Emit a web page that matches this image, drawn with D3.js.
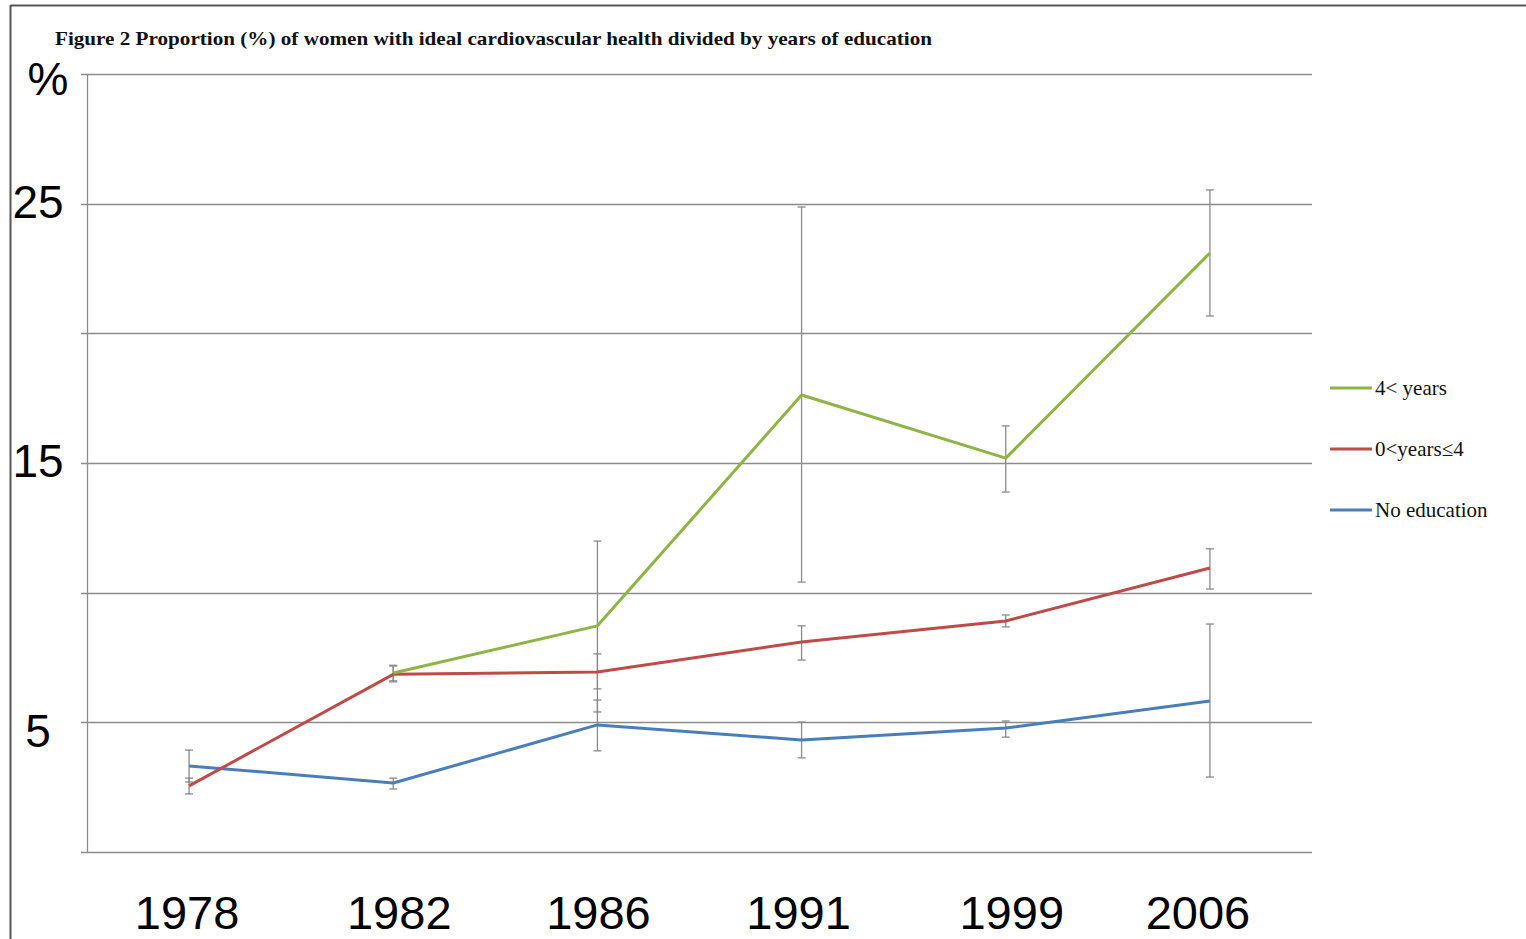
<!DOCTYPE html>
<html>
<head>
<meta charset="utf-8">
<script src="https://cdn.jsdelivr.net/npm/d3@7"></script>
<style>
  html, body { margin: 0; padding: 0; background: #fff; }
  svg { display: block; }
</style>
</head>
<body>
<svg id="chart" width="1526" height="939"></svg>
<script>
// Survey years (categorical x axis)
const years = ["1978", "1982", "1986", "1991", "1999", "2006"];

// Proportion (%) of women with ideal cardiovascular health, with CI bounds
const noEducation      = [3.32, 2.66, 4.90, 4.32, 4.78, 5.82];
const noEducationLow   = [2.70, 2.43, 3.90, 3.63, 4.43, 2.89];
const noEducationHigh  = [3.93, 2.85, 5.86, 5.01, 5.05, 8.79];

const upToFour         = [2.55, 6.85, 6.94, 8.10, 8.91, 10.95];
const upToFourLow      = [2.24, 6.56, 6.29, 7.40, 8.68, 10.14];
const upToFourHigh     = [2.85, 7.17, 7.64, 8.72, 9.14, 11.69];

const overFour         = [null, 6.90, 8.72, 17.62, 15.19, 23.10];
const overFourLow      = [null, 6.60, 5.40, 10.41, 13.88, 20.67];
const overFourHigh     = [null, 7.20, 11.99, 24.87, 16.43, 25.53];

// Gridline values and the subset that carries a printed label
const gridValues = [0, 5, 10, 15, 20, 25, 30];
const yLabels = ["25", "15", "5"];

const seriesNames = ["4< years", "0<years\u22644", "No education"];

const svg = d3.select("#chart");

// Outer frame (top and left edges)
svg.append("line").attr("x1", 10.5).attr("x2", 1526).attr("y1", 5.5).attr("y2", 5.5)
  .attr("stroke", "#555").attr("stroke-width", 2);
svg.append("line").attr("x1", 10.5).attr("x2", 10.5).attr("y1", 5).attr("y2", 939)
  .attr("stroke", "#555").attr("stroke-width", 2);

const plot = { left: 87, right: 1312, top: 74, bottom: 852 };

const x = d3.scalePoint().domain(years).range([plot.left, plot.right]).padding(0.5);
const y = d3.scaleLinear().domain([0, 30]).range([plot.bottom, plot.top]);

// Title
svg.append("text")
  .attr("x", 55).attr("y", 45)
  .attr("font-family", "'Liberation Serif', 'Times New Roman', serif")
  .attr("font-weight", "bold")
  .attr("font-size", 19.5)
  .attr("textLength", 877)
  .attr("lengthAdjust", "spacingAndGlyphs")
  .attr("fill", "#111")
  .text("Figure 2 Proportion (%) of women with ideal cardiovascular health divided by years of education");

// Horizontal gridlines
svg.append("g").selectAll("line").data(gridValues).join("line")
  .attr("x1", plot.left - 6).attr("x2", plot.right)
  .attr("y1", d => Math.round(y(d)) + 0.5).attr("y2", d => Math.round(y(d)) + 0.5)
  .attr("stroke", "#8c8c8c").attr("stroke-width", 1.3);

// Vertical axis line
svg.append("line")
  .attr("x1", plot.left + 0.5).attr("x2", plot.left + 0.5)
  .attr("y1", y(30)).attr("y2", y(0))
  .attr("stroke", "#8c8c8c").attr("stroke-width", 1.3);

// Y labels
svg.append("g").selectAll("text").data(yLabels).join("text")
  .attr("x", 38)
  .attr("y", d => y(+d) + (+d === 5 ? 25 : 14))
  .attr("text-anchor", "middle")
  .attr("font-family", "'Liberation Sans', Arial, sans-serif")
  .attr("font-size", 46)
  .attr("fill", "#000")
  .text(d => d);

svg.append("text")
  .attr("x", 48).attr("y", 95)
  .attr("text-anchor", "middle")
  .attr("font-family", "'Liberation Sans', Arial, sans-serif")
  .attr("font-size", 46)
  .attr("fill", "#000")
  .text("%");

// X labels, each set as a loose text box near its category
const labelNudge = { "1978": -2, "1982": 6, "1986": 1, "1991": -3, "1999": 6, "2006": -12 };
svg.append("g").selectAll("text").data(years).join("text")
  .attr("x", d => x(d) + labelNudge[d])
  .attr("y", 929)
  .attr("text-anchor", "middle")
  .attr("font-family", "'Liberation Sans', Arial, sans-serif")
  .attr("font-size", 47)
  .attr("fill", "#000")
  .text(d => d);

const series = [
  { name: seriesNames[2], color: "#4a7ebb", values: noEducation, low: noEducationLow, high: noEducationHigh },
  { name: seriesNames[1], color: "#be4b48", values: upToFour, low: upToFourLow, high: upToFourHigh },
  { name: seriesNames[0], color: "#8db445", values: overFour, low: overFourLow, high: overFourHigh }
];

const line = d3.line()
  .defined(d => d.v != null)
  .x(d => x(d.year))
  .y(d => y(d.v));

// Error bars
const errG = svg.append("g");
series.forEach(s => {
  const pts = years.map((yr, i) => ({ year: yr, lo: s.low[i], hi: s.high[i] }))
    .filter(d => d.lo != null);
  const g = errG.append("g").attr("stroke", "#8a8a8a").attr("stroke-width", 1.3).attr("fill", "none");
  g.selectAll("line.v").data(pts).join("line").attr("class", "v")
    .attr("x1", d => x(d.year)).attr("x2", d => x(d.year))
    .attr("y1", d => y(d.hi)).attr("y2", d => y(d.lo));
  g.selectAll("line.t").data(pts).join("line").attr("class", "t")
    .attr("x1", d => x(d.year) - 4).attr("x2", d => x(d.year) + 4)
    .attr("y1", d => y(d.hi)).attr("y2", d => y(d.hi));
  g.selectAll("line.b").data(pts).join("line").attr("class", "b")
    .attr("x1", d => x(d.year) - 4).attr("x2", d => x(d.year) + 4)
    .attr("y1", d => y(d.lo)).attr("y2", d => y(d.lo));
});

// Series lines
series.forEach(s => {
  svg.append("path")
    .datum(years.map((yr, i) => ({ year: yr, v: s.values[i] })))
    .attr("fill", "none")
    .attr("stroke", s.color)
    .attr("stroke-width", 3)
    .attr("stroke-linejoin", "round")
    .attr("d", line);
});

// Legend
const legendItems = [series[2], series[1], series[0]];
const legend = svg.append("g");
legendItems.forEach((s, i) => {
  const ly = 388 + i * 61;
  legend.append("line")
    .attr("x1", 1330).attr("x2", 1372).attr("y1", ly).attr("y2", ly)
    .attr("stroke", s.color).attr("stroke-width", 3);
  legend.append("text")
    .attr("x", 1375).attr("y", ly + 7)
    .attr("font-family", "'Liberation Serif', 'Times New Roman', serif")
    .attr("font-size", 21)
    .attr("fill", "#111")
    .text(s.name);
});
</script>
</body>
</html>
